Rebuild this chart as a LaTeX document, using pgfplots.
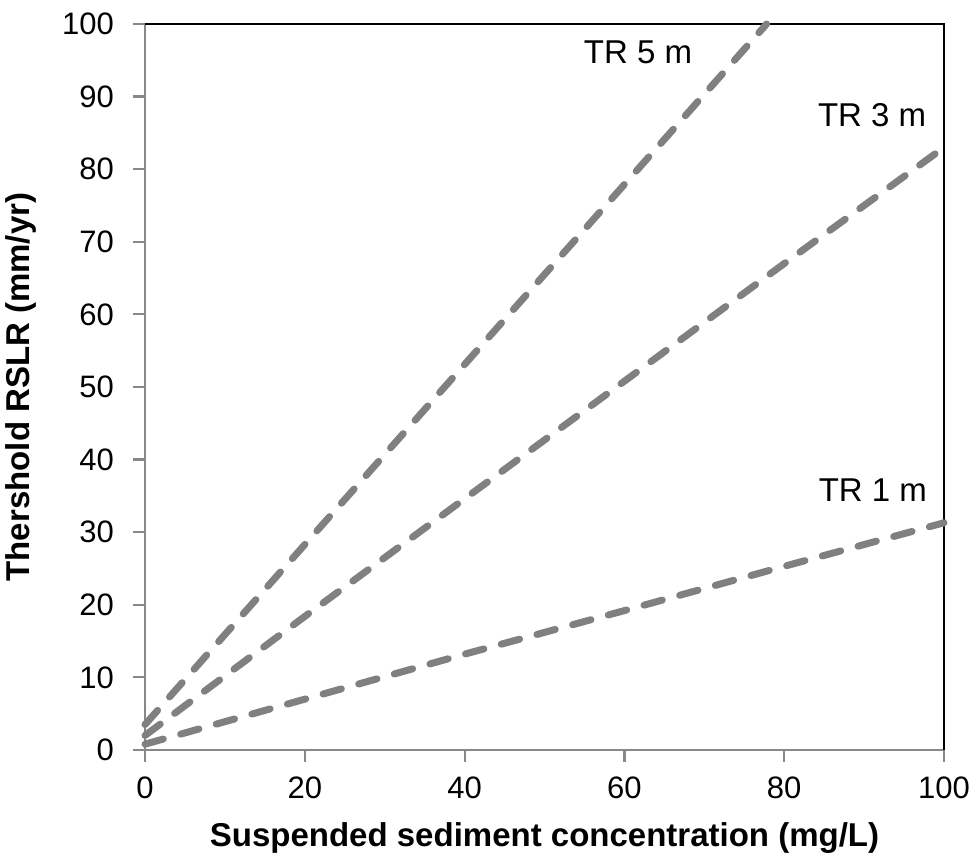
\documentclass[border=0pt]{standalone}
\usepackage{pgfplots}
\pgfplotsset{compat=1.18}
\usepackage{fontspec}
\setmainfont{Liberation Sans}
\definecolor{linegray}{RGB}{128,128,128}
\definecolor{axgray}{RGB}{136,136,136}
\begin{document}
\begin{tikzpicture}
\useasboundingbox (-72.5pt,-56pt) rectangle (415.5pt,375pt);
\begin{axis}[
  scale only axis,
  width=399.5pt, height=363pt,
  xmin=0, xmax=100, ymin=0, ymax=100,
  xtick={0,20,...,100}, ytick={0,10,...,100},
  axis x line*=bottom, axis y line*=left,
  axis line style={axgray, line width=1.1pt},
  tick align=outside, major tick length=6pt,
  tick style={axgray, line width=1.1pt},
  /pgf/number format/assume math mode=true,
  tick label style={font=\fontsize{15.5}{18}\selectfont},
  xticklabel style={yshift=-4pt},
  yticklabel style={xshift=-6pt},
  xlabel={\fontsize{16.5}{20}\selectfont\bfseries Suspended sediment concentration (mg/L)},
  ylabel={\fontsize{16.5}{20}\selectfont\bfseries Thershold RSLR (mm/yr)},
  xlabel style={at={(axis description cs:0.5,0)}, anchor=north, yshift=-33pt},
  ylabel style={at={(axis description cs:0,0.5)}, anchor=south, yshift=51pt},
  clip=false,
]
\draw[black, line width=1.1pt] (rel axis cs:0,1) -- (rel axis cs:1,1) -- (rel axis cs:1,0);
\pgfplotsset{every axis plot/.append style={linegray, line width=3.5pt, line cap=round, dash pattern=on 9.5pt off 9pt}}
% TR 5 m
\addplot[linegray] coordinates {(0,3.5) (10,15.9) (20,28.3) (40,53.1) (60,77.9) (77.8,100)};
% TR 3 m
\addplot[linegray] coordinates {(0,2) (20,18.4) (40,34.6) (60,50.8) (80,67) (100,83)};
% TR 1 m
\addplot[linegray] coordinates {(0,0.8) (20,7.0) (40,13.2) (60,19.2) (80,25.3) (100,31.3)};
\node[font=\fontsize{16.5}{20}\selectfont] at (axis cs:61.7,96.1) {TR 5 m};
\node[font=\fontsize{16.5}{20}\selectfont] at (axis cs:91.0,87.5) {TR 3 m};
\node[font=\fontsize{16.5}{20}\selectfont] at (axis cs:91.1,35.8) {TR 1 m};
\end{axis}
\end{tikzpicture}
\end{document}
